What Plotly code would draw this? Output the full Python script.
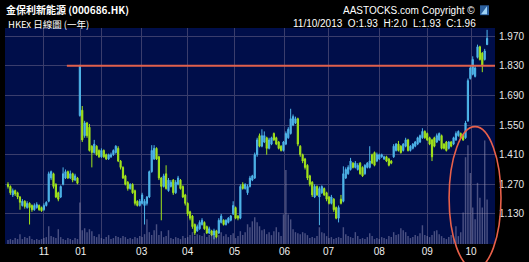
import plotly.graph_objects as go

# ---------------- data ----------------
opens = [1.27,1.26,1.22,1.24,1.23,1.21,1.17,1.19,1.16,1.18,
         1.17,1.15,1.16,1.17,1.16,1.15,1.17,1.19,1.30,1.32,
         1.27,1.23,1.21,1.27,1.30,1.33,1.30,1.32,1.29,1.30,
         1.595,1.62,1.50,1.56,1.54,1.45,1.42,1.45,1.43,1.40,
         1.43,1.41,1.39,1.40,1.41,1.42,1.44,1.38,1.35,1.31,
         1.28,1.25,1.27,1.24,1.19,1.17,1.18,1.17,1.18,1.21,
         1.33,1.39,1.44,1.40,1.30,1.26,1.32,1.24,1.26,1.29,
         1.23,1.27,1.29,1.26,1.22,1.18,1.14,1.12,1.08,1.05,
         1.06,1.08,1.09,1.07,1.04,1.05,1.03,1.05,1.04,1.09,
         1.10,1.08,1.09,1.10,1.13,1.16,1.12,1.11,1.27,1.25,
         1.23,1.26,1.29,1.30,1.41,1.50,1.45,1.47,1.49,1.44,
         1.46,1.51,1.49,1.47,1.45,1.43,1.46,1.49,1.51,1.55,
         1.56,1.58,1.45,1.41,1.39,1.36,1.31,1.28,1.21,1.26,
         1.21,1.23,1.25,1.23,1.21,1.18,1.20,1.16,1.11,1.20,
         1.19,1.30,1.32,1.34,1.37,1.35,1.34,1.37,1.35,1.32,
         1.35,1.35,1.41,1.42,1.38,1.39,1.40,1.39,1.40,1.39,
         1.38,1.40,1.43,1.46,1.45,1.43,1.45,1.48,1.43,1.44,
         1.45,1.46,1.47,1.49,1.52,1.51,1.49,1.48,1.49,1.47,
         1.48,1.50,1.46,1.47,1.44,1.47,1.46,1.48,1.50,1.51,
         1.50,1.49,1.57,1.77,1.79,1.78,1.87,1.92,1.89,1.86,
         1.93]
highs = [1.28,1.265,1.25,1.245,1.235,1.215,1.20,1.195,1.19,1.185,
         1.175,1.18,1.185,1.175,1.165,1.18,1.19,1.33,1.335,1.325,
         1.275,1.235,1.265,1.35,1.34,1.335,1.335,1.325,1.32,1.305,
         1.835,1.64,1.57,1.565,1.555,1.455,1.48,1.455,1.435,1.44,
         1.435,1.415,1.415,1.42,1.435,1.455,1.45,1.385,1.355,1.315,
         1.285,1.275,1.275,1.245,1.195,1.20,1.23,1.20,1.215,1.335,
         1.455,1.455,1.445,1.405,1.305,1.32,1.36,1.30,1.29,1.295,
         1.29,1.31,1.295,1.265,1.225,1.185,1.145,1.125,1.085,1.08,
         1.10,1.11,1.095,1.075,1.07,1.055,1.06,1.055,1.11,1.13,
         1.105,1.105,1.115,1.125,1.19,1.165,1.125,1.27,1.28,1.275,
         1.27,1.31,1.315,1.42,1.49,1.51,1.53,1.52,1.495,1.49,
         1.495,1.515,1.495,1.475,1.455,1.475,1.52,1.54,1.627,1.60,
         1.59,1.585,1.455,1.415,1.395,1.365,1.315,1.285,1.27,1.265,
         1.26,1.265,1.255,1.235,1.215,1.22,1.205,1.165,1.17,1.22,
         1.355,1.35,1.36,1.395,1.375,1.38,1.37,1.375,1.355,1.365,
         1.375,1.45,1.415,1.425,1.42,1.415,1.415,1.405,1.405,1.395,
         1.385,1.46,1.465,1.475,1.455,1.465,1.49,1.485,1.455,1.465,
         1.475,1.495,1.505,1.535,1.525,1.515,1.495,1.485,1.495,1.51,
         1.515,1.505,1.465,1.475,1.475,1.475,1.495,1.52,1.525,1.515,
         1.505,1.57,1.77,1.83,1.875,1.83,1.93,1.925,1.895,1.91,
         2.00]
lows = [1.25,1.22,1.21,1.215,1.20,1.15,1.165,1.155,1.155,1.08,
        1.14,1.145,1.155,1.145,1.14,1.145,1.165,1.185,1.29,1.25,
        1.205,1.19,1.205,1.265,1.295,1.295,1.295,1.28,1.285,1.27,
        1.59,1.47,1.49,1.49,1.425,1.35,1.415,1.405,1.395,1.395,
        1.395,1.385,1.385,1.395,1.405,1.415,1.375,1.34,1.295,1.265,
        1.24,1.245,1.225,1.17,1.165,1.165,1.175,1.08,1.17,1.205,
        1.325,1.385,1.385,1.29,1.10,1.255,1.245,1.235,1.255,1.22,
        1.225,1.265,1.245,1.205,1.17,1.12,1.10,1.06,1.03,1.045,
        1.055,1.075,1.055,1.035,1.035,1.025,1.01,1.015,1.035,1.085,
        1.075,1.075,1.085,1.095,1.125,1.105,1.10,1.105,1.245,1.245,
        1.22,1.255,1.285,1.295,1.40,1.445,1.445,1.465,1.41,1.435,
        1.455,1.475,1.455,1.435,1.425,1.425,1.455,1.485,1.505,1.545,
        1.555,1.45,1.40,1.37,1.34,1.29,1.26,1.21,1.205,1.215,
        1.077,1.225,1.215,1.19,1.175,1.175,1.14,1.105,1.09,1.175,
        1.185,1.295,1.315,1.335,1.345,1.345,1.335,1.315,1.305,1.315,
        1.345,1.345,1.365,1.355,1.375,1.385,1.395,1.385,1.375,1.355,
        1.365,1.395,1.425,1.425,1.415,1.425,1.445,1.425,1.425,1.435,
        1.445,1.455,1.465,1.485,1.485,1.475,1.455,1.38,1.445,1.465,
        1.475,1.435,1.435,1.425,1.435,1.445,1.455,1.475,1.495,1.485,
        1.475,1.485,1.565,1.765,1.785,1.775,1.865,1.855,1.80,1.855,
        1.93]
closes = [1.26,1.23,1.24,1.225,1.21,1.185,1.19,1.165,1.18,1.16,
          1.15,1.17,1.175,1.15,1.145,1.17,1.185,1.32,1.33,1.26,
          1.21,1.20,1.26,1.32,1.33,1.30,1.32,1.29,1.31,1.275,
          1.83,1.48,1.56,1.50,1.43,1.42,1.46,1.41,1.40,1.43,
          1.40,1.39,1.41,1.41,1.43,1.45,1.38,1.35,1.30,1.27,
          1.25,1.27,1.23,1.18,1.17,1.19,1.22,1.19,1.21,1.33,
          1.43,1.44,1.39,1.30,1.26,1.31,1.25,1.29,1.28,1.23,
          1.28,1.30,1.25,1.21,1.18,1.13,1.11,1.07,1.04,1.07,
          1.09,1.10,1.06,1.04,1.06,1.03,1.05,1.02,1.10,1.12,
          1.08,1.10,1.11,1.12,1.17,1.11,1.11,1.26,1.25,1.27,
          1.26,1.30,1.31,1.41,1.48,1.45,1.50,1.50,1.44,1.48,
          1.49,1.48,1.46,1.44,1.43,1.47,1.51,1.53,1.58,1.59,
          1.58,1.46,1.41,1.38,1.35,1.30,1.27,1.22,1.26,1.22,
          1.25,1.26,1.22,1.20,1.18,1.21,1.15,1.11,1.16,1.18,
          1.32,1.34,1.35,1.38,1.35,1.37,1.36,1.32,1.31,1.36,
          1.37,1.38,1.37,1.36,1.41,1.41,1.41,1.40,1.38,1.36,
          1.37,1.45,1.46,1.43,1.42,1.46,1.48,1.43,1.45,1.46,
          1.47,1.49,1.50,1.52,1.49,1.48,1.46,1.40,1.45,1.50,
          1.51,1.44,1.44,1.43,1.47,1.45,1.49,1.51,1.52,1.49,
          1.48,1.56,1.76,1.82,1.86,1.82,1.92,1.86,1.83,1.90,
          1.96]
volumes = [4,5,4,6,5,10,5,7,6,8,
           5,4,5,4,5,6,7,18,8,7,
           6,15,7,5,4,6,5,4,6,5,
           42,14,16,12,15,13,8,7,10,6,
           5,7,9,5,6,8,7,6,8,7,
           5,6,5,7,6,8,7,10,25,12,
           9,14,20,9,13,7,8,14,6,5,
           7,6,5,8,6,7,9,12,8,10,
           9,8,11,7,9,10,8,6,9,12,
           8,10,7,9,11,6,8,13,9,12,
           20,17,23,27,22,18,14,15,10,12,
           9,13,17,12,8,30,75,30,25,15,
           12,11,10,12,11,9,6,7,6,8,
           17,12,11,8,6,7,5,6,7,6,
           17,10,8,7,6,12,8,5,6,5,
           7,11,8,5,6,5,7,6,5,8,
           7,12,9,10,16,14,12,8,6,7,
           9,8,11,19,9,8,7,9,13,14,
           10,8,6,5,7,9,8,18,8,12,
           32,88,100,72,37,25,62,47,37,105,
           45]

# month tick labels and their positions (trading-day index)
tick_pos = [15, 30.4, 39.2, 55.8, 75, 94.6, 115.4, 133.8, 155, 175, 193.3]
tick_txt = ["11", "01", "", "03", "04", "05", "06", "07", "08", "09", "10"]
price_ticks = [1.13, 1.27, 1.41, 1.55, 1.69, 1.83, 1.97]
resistance = 1.83

idx = list(range(len(closes)))

# ---------------- figure ----------------
W, H = 529, 262
ML, MR, MT, MB = 5, 33, 28, 15
PW, PH = W - ML - MR, H - MT - MB

def px(x):   # pixel -> paper x
    return (x - ML) / PW

def py(y):   # pixel -> paper y
    return (H - MB - y) / PH

fig = go.Figure()
fig.add_trace(go.Bar(
    x=idx, y=volumes, yaxis="y2", width=0.6,
    marker=dict(color="rgba(145,145,185,0.5)", line=dict(width=0)),
    hoverinfo="skip", showlegend=False))
fig.add_trace(go.Candlestick(
    x=idx, open=opens, high=highs, low=lows, close=closes,
    increasing=dict(line=dict(color="#4fb6ea", width=1), fillcolor="#4fb6ea"),
    decreasing=dict(line=dict(color="#a2e41a", width=1), fillcolor="#a2e41a"),
    whiskerwidth=0, showlegend=False))

grid = "#3a3d6c"
fig.update_layout(
    width=W, height=H,
    margin=dict(l=ML, r=MR, t=MT, b=MB, pad=0),
    paper_bgcolor="#000000", plot_bgcolor="#000e4a",
    showlegend=False, bargap=0.3,
    xaxis=dict(range=[-1.25, 203.3], tickmode="array", tickvals=tick_pos,
               ticktext=tick_txt, showgrid=True, gridcolor=grid, gridwidth=1,
               zeroline=False, showline=False, ticks="",
               tickfont=dict(family="Liberation Sans, Arial", size=10, color="#f0f0f0"),
               rangeslider=dict(visible=False), fixedrange=True),
    yaxis=dict(side="right", range=[0.988, 2.0087], tickmode="array",
               tickvals=price_ticks, tickformat=".3f", showgrid=True,
               gridcolor=grid, gridwidth=1, zeroline=False, showline=False,
               ticks="", ticklabelstandoff=3,
               tickfont=dict(family="Liberation Sans, Arial", size=10, color="#e6e6e6")),
    yaxis2=dict(overlaying="y", range=[0, 219], visible=False),
)

# resistance line and highlight ellipse
fig.add_shape(type="line", xref="paper", yref="y", x0=px(67), x1=1,
              y0=resistance, y1=resistance, line=dict(color="#e0604c", width=2))
fig.add_shape(type="circle", xref="paper", yref="paper",
              x0=px(450), x1=px(502), y0=py(272), y1=py(128),
              line=dict(color="#e8604a", width=1.6))

# header texts
fig.add_annotation(xref="paper", yref="paper", x=px(4), y=py(9), xanchor="left",
                   yanchor="middle", showarrow=False,
                   text="<b>金保利新能源 (000686.HK)</b>",
                   font=dict(family="Noto Sans CJK TC", size=10, color="#ffffff"))
fig.add_annotation(xref="paper", yref="paper", x=px(6), y=py(23.5), xanchor="left",
                   yanchor="middle", showarrow=False,
                   text="HKEx 日線圖 (一年)",
                   font=dict(family="Noto Sans CJK TC", size=9.5, color="#ffffff"))
fig.add_annotation(xref="paper", yref="paper", x=px(478), y=py(10), xanchor="right",
                   yanchor="middle", showarrow=False,
                   text="AASTOCKS.com Copyright ©",
                   font=dict(family="Liberation Sans, Arial", size=10, color="#ffffff"))
fig.add_annotation(xref="paper", yref="paper", x=px(479), y=py(23), xanchor="right",
                   yanchor="middle", showarrow=False,
                   text="11/10/2013 &nbsp;O:1.93 &nbsp;H:2.0 &nbsp;L:1.93 &nbsp;C:1.96",
                   font=dict(family="Liberation Sans, Arial", size=10, color="#ffffff"))
# small logo
fig.add_shape(type="rect", xref="paper", yref="paper", x0=px(481), x1=px(490),
              y0=py(15), y1=py(5), fillcolor="#2b5f9e", line=dict(width=0))
fig.add_shape(type="path", xref="paper", yref="paper",
              path=f"M {px(482)},{py(14)} L {px(488)},{py(6)} L {px(488)},{py(14)} Z",
              fillcolor="#9fd3f5", line=dict(width=0))

fig.write_html("out.html")
